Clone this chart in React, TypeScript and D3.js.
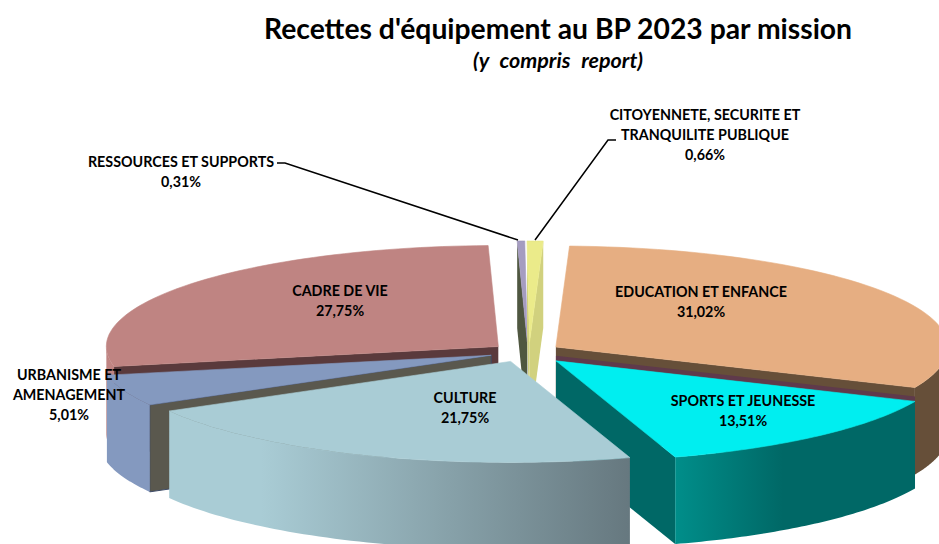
import React from 'react';
import * as d3 from 'd3';

const missions = ['Education', 'Sports', 'Culture', 'Urbanisme', 'Cadre', 'Ressources', 'Citoyennete'];
const shares = [31.02, 13.51, 21.75, 5.01, 27.75, 0.31, 0.66];
const shareLabels = ['31,02%', '13,51%', '21,75%', '5,01%', '27,75%', '0,31%', '0,66%'];

// slice look
const topColors = ['#e6ae82', '#00eef0', '#a9ccd5', '#8499bf', '#bf8482', '#a59cc0', '#ebeb8a'];
const cutColors = ['#664f39', '#006866', '#a9ccd5', '#5a584e', '#5a3a3c', '#4f5740', '#d1d17e'];
const wallFrom = ['#664f39', '#008e8a', '#a9ccd5', '#8499bf', '#bf8482', '#a59cc0', '#ebeb8a'];
const wallTo = ['#664f39', '#006866', '#66787f', '#8499bf', '#bf8482', '#a59cc0', '#ebeb8a'];

// how far each slice is pulled out of the pie
const explode = [0.093, 0.118, 0.1, 0.092, 0.087, 0.1, 0.1];
const nudgeX = [0, 0, 0, 0, 0, 3, 4];
const paintOrder = [0, 4, 5, 6, 3, 1, 2];

const width = 939;
const height = 544;
const cx = 525;
const cy = 352;
const rx = 392;
const ry = 101;
const depth = 87;
const startDeg = 2;

const fontFamily = 'Lato, Carlito, sans-serif';

const labels = [
  { lines: ['EDUCATION ET ENFANCE', shareLabels[0]], x: 701, y: 297 },
  { lines: ['SPORTS ET JEUNESSE', shareLabels[1]], x: 743, y: 406 },
  { lines: ['CULTURE', shareLabels[2]], x: 465, y: 403 },
  { lines: ['URBANISME ET', 'AMENAGEMENT', shareLabels[3]], x: 69, y: 380 },
  { lines: ['CADRE DE VIE', shareLabels[4]], x: 340, y: 296 },
  { lines: ['RESSOURCES ET SUPPORTS', shareLabels[5]], x: 181, y: 167 },
  { lines: ['CITOYENNETE, SECURITE ET', 'TRANQUILITE PUBLIQUE', shareLabels[6]], x: 705, y: 120 },
];

const leaders = [
  [[277, 163], [285, 163], [518, 240]],
  [[616, 140], [608, 140], [535, 240]],
];

const arcs = d3
  .pie<number>()
  .sort(null)
  .startAngle((startDeg * Math.PI) / 180)
  .endAngle((startDeg * Math.PI) / 180 + 2 * Math.PI)(shares);

const linePath = d3.line();

function App() {
  const slices = arcs.map((a, i) => {
    const mid = (a.startAngle + a.endAngle) / 2;
    const ax = cx + rx * explode[i] * Math.sin(mid) + nudgeX[i];
    const ay = cy - ry * explode[i] * Math.cos(mid);
    const rim = (t: number): [number, number] => [ax + rx * Math.sin(t), ay - ry * Math.cos(t)];
    const steps = d3.range(0, 61).map((k) => a.startAngle + ((a.endAngle - a.startAngle) * k) / 60);
    const rimPts = steps.map(rim);
    const apex: [number, number] = [ax, ay];
    const top = [apex, ...rimPts];

    // outer wall, only the part of the rim facing the viewer
    const lo = Math.max(a.startAngle, Math.PI / 2);
    const hi = Math.min(a.endAngle, (3 * Math.PI) / 2);
    const front = hi > lo ? d3.range(0, 61).map((k) => rim(lo + ((hi - lo) * k) / 60)) : [];
    const wall = [...front, ...front.slice().reverse().map(([x, y]) => [x, y + depth] as [number, number])];
    const xs = front.map((p) => p[0]);

    // the two cut faces, kept when they turn toward the viewer
    const midPt = rim(mid);
    const cuts = [rimPts[0], rimPts[60]].filter((r) => {
      const dx = r[0] - ax;
      const dy = r[1] - ay;
      const side = dx * (midPt[1] - ay) - dy * (midPt[0] - ax);
      const ny = side > 0 ? -dx : dx;
      return ny > 0;
    }).map((r) => [apex, r, [r[0], r[1] + depth], [ax, ay + depth]] as [number, number][]);

    const startRim = rimPts[0];
    const strip = i === 1
      ? [apex, startRim, [startRim[0], startRim[1] - 5], [ax, ay - 5]] as [number, number][]
      : null;

    return { i, top, wall, cuts, strip, x0: d3.min(xs) ?? 0, x1: d3.max(xs) ?? 1 };
  });

  return (
    <svg width={width} height={height} style={{ position: 'absolute', left: 0, top: 0, background: '#fff' }}>
      <defs>
        {slices.map((s) => (
          <linearGradient key={s.i} id={`wall-${s.i}`} gradientUnits="userSpaceOnUse" x1={s.x0} x2={s.x1} y1={0} y2={0}>
            <stop offset="0" stopColor={wallFrom[s.i]} />
            {s.i === 1 && <stop offset="0.45" stopColor={wallTo[1]} />}
            {s.i === 2 && <stop offset="0.2" stopColor={wallFrom[2]} />}
            <stop offset="1" stopColor={wallTo[s.i]} />
          </linearGradient>
        ))}
      </defs>

      {paintOrder.map((idx) => {
        const s = slices[idx];
        return (
          <g key={missions[idx]}>
            {s.cuts.map((c, k) => (
              <path
                key={k}
                d={linePath(c) + 'Z'}
                fill={cutColors[idx]}
                stroke={idx === 3 ? '#3d4a66' : 'none'}
                strokeWidth={idx === 3 ? 1 : 0}
              />
            ))}
            {s.wall.length > 0 && <path d={linePath(s.wall as [number, number][]) + 'Z'} fill={`url(#wall-${idx})`} />}
            {s.strip && <path d={linePath(s.strip) + 'Z'} fill="#5f3a4b" />}
            <path d={linePath(s.top) + 'Z'} fill={topColors[idx]} stroke={topColors[idx]} strokeWidth={0.6} />
          </g>
        );
      })}

      {leaders.map((l, i) => (
        <path key={i} d={linePath(l as [number, number][]) ?? ''} fill="none" stroke="#000" strokeWidth={1.5} />
      ))}

      <g fontFamily={fontFamily} fontWeight={700} fontSize={14.3} textAnchor="middle" fill="#000">
        {labels.map((l) =>
          l.lines.map((t, k) => (
            <text key={t} x={l.x} y={l.y + k * 20}>
              {t}
            </text>
          )),
        )}
      </g>

      <text x={558} y={39} textAnchor="middle" fontFamily={fontFamily} fontWeight={700} fontSize={28.3} fill="#000">
        Recettes d'équipement au BP 2023 par mission
      </text>
      <text x={558} y={68} textAnchor="middle" fontFamily={fontFamily} fontWeight={700} fontStyle="italic" fontSize={21.5} wordSpacing={6} fill="#000">
        (y compris report)
      </text>
    </svg>
  );
}

export default App;
